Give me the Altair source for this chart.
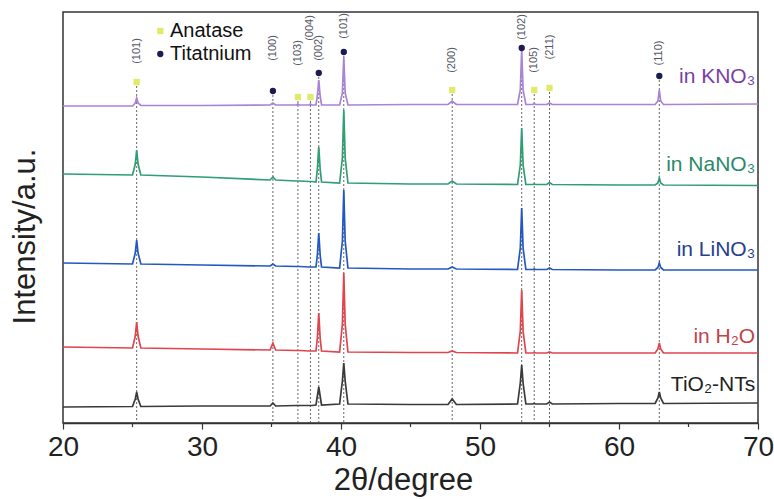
import altair as alt
import pandas as pd

# ---------------- data ----------------
two_theta = [20, 25.0, 25.2, 25.3, 25.4, 25.6, 30, 34.9, 35.1, 35.3, 36.8, 36.9, 37.0,
             37.7, 37.8, 37.9, 38.2, 38.3, 38.4, 38.5, 38.6, 39.9, 40.1, 40.2, 40.3, 40.5,
             45, 47.7, 48.0, 48.3, 52.7, 52.9, 53.0, 53.1, 53.3, 53.8, 53.9, 54.0, 54.8,
             55.0, 55.2, 60, 62.6, 62.8, 62.9, 63.0, 63.2, 70]

kno3 = [317, 317, 320, 325, 320, 317.5, 317.5, 318, 320, 318, 318, 319, 318,
        318, 319, 318, 318, 327, 343, 327, 318, 318, 330, 366, 330, 318,
        318.5, 318.5, 322, 318.5, 318.5, 333, 373, 333, 318.5, 318.5, 319.5, 318.5, 318.5,
        320, 318.5, 318.5, 318.5, 322, 333, 322, 318.5, 319]

nano3 = [249, 248, 259, 273, 259, 248, 246, 243, 246, 243, 242, 242, 242,
         241.5, 241.5, 241.5, 241, 254, 276, 254, 241, 240, 265, 313, 265, 240,
         239, 239, 242, 239, 238.5, 258, 295, 258, 238.5, 238.5, 239, 238.5, 238.5,
         240.5, 238.5, 238, 238, 240, 245, 240, 238, 237.5]

lino3 = [160, 159, 170, 183, 170, 159, 158, 157, 159, 157, 156.5, 156.5, 156.5,
         156, 156, 156, 156, 168, 190, 168, 156, 155, 182, 233, 182, 155,
         154, 154, 156, 154, 153.5, 175, 215, 175, 153.5, 153.5, 154, 153.5, 153.5,
         155, 153.5, 153, 153, 155.5, 160, 155.5, 153, 153]

h2o = [76, 75, 87, 101, 87, 75, 74, 73, 80, 73, 72.5, 72.5, 72.5,
       72, 72, 72, 72, 85, 110, 85, 72, 71, 99, 150, 99, 71,
       70.5, 70.5, 72, 70.5, 70, 92, 133, 92, 70, 70, 70.5, 70, 70,
       71, 70, 70, 70, 74, 80, 74, 70, 70]

tio2 = [16, 16.5, 24, 31, 24, 16.5, 17, 17, 20, 17, 17.5, 17.5, 17.5,
        17.5, 17.5, 17.5, 18, 27, 36, 27, 18, 19, 42, 60, 42, 19,
        18.5, 18.5, 24, 18.5, 19, 40, 58, 40, 19, 19, 19.5, 19, 19,
        21, 19, 19.5, 19.5, 25, 31, 25, 19.5, 20]

series_names = ["KNO3", "NaNO3", "LiNO3", "H2O", "TiO2"]
series_colors = ["#a883d8", "#2f9e74", "#2458c0", "#e0444c", "#3a3a3a"]

# peak reference positions, phases, marker heights, hkl labels
peak_pos = [25.3, 35.1, 36.9, 37.8, 38.4, 40.2, 48.0, 53.0, 53.9, 55.0, 62.9]
peak_phase = ["A", "T", "A", "A", "T", "T", "A", "T", "A", "A", "T"]
peak_marker_y = [341, 332, 326, 326, 350, 371, 333, 375, 333, 335, 347]
peak_hkl = ["(101)", "(100)", "(103)", "(004)", "(002)", "(101)", "(200)", "(102)",
            "(105)", "(211)", "(110)"]
peak_label_y = [372, 375, 370, 395, 375, 397, 363, 396, 363, 376, 370]

# trace labels
trace_labels = ["in KNO₃", "in NaNO₃", "in LiNO₃", "in H₂O", "TiO₂-NTs"]
trace_label_y = [346, 258, 173, 86, 38]
trace_label_colors = ["#7a3fa6", "#2a8a6a", "#25408f", "#c0444a", "#222222"]

legend_text = ["Anatase", "Titatnium"]
legend_y = [392, 369]
legend_colors = ["#e3ea6a", "#1c1c50"]

minor_ticks = [25, 35, 45, 55, 65]

# ---------------- build tables ----------------
rows = []
for name, ys in zip(series_names, [kno3, nano3, lino3, h2o, tio2]):
    for x, y in zip(two_theta, ys):
        rows.append({"x": x, "y": y, "s": name})
df = pd.DataFrame(rows)

peaks = pd.DataFrame({"x": peak_pos, "phase": peak_phase, "my": peak_marker_y,
                      "hkl": peak_hkl, "ly": peak_label_y, "y0": [0] * len(peak_pos)})
tl = pd.DataFrame({"t": trace_labels, "y": trace_label_y, "c": trace_label_colors,
                   "x": [69.8] * 5})
lg = pd.DataFrame({"t": legend_text, "y": legend_y, "c": legend_colors,
                   "x": [27.0, 27.0], "tx": [27.7, 27.7]})
mt = pd.DataFrame({"x": minor_ticks})

FONT = "Liberation Sans"
xscale = alt.Scale(domain=[20, 70], nice=False, zero=False)
yscale = alt.Scale(domain=[0, 411], nice=False, zero=False)

xax = alt.Axis(values=[20, 30, 40, 50, 60, 70], title="2θ/degree", grid=False,
               labelFontSize=28, titleFontSize=31, labelFont=FONT, titleFont=FONT,
               titleFontWeight="normal", labelColor="#222", titleColor="#222",
               tickSize=6, labelPadding=4, titlePadding=4, titleX=340, domainColor="#333",
               tickColor="#333", domainWidth=1.5, tickWidth=1.2, labelFlush=False)
yax = alt.Axis(title="Intensity/a.u.", labels=False, ticks=False, grid=False, domain=False,
               titleFontSize=31, titleFont=FONT, titleFontWeight="normal",
               titleColor="#222", titlePadding=22, titleY=224)

vlines = alt.Chart(peaks).mark_rule(color="#555", strokeWidth=0.9, strokeDash=[2, 2]).encode(
    x=alt.X("x:Q", scale=xscale, axis=xax),
    y=alt.Y("my:Q", scale=yscale, axis=yax),
    y2="y0:Q",
)

lines = alt.Chart(df).mark_line(strokeWidth=1.7).encode(
    x=alt.X("x:Q", scale=xscale),
    y=alt.Y("y:Q", scale=yscale),
    color=alt.Color("s:N", scale=alt.Scale(domain=series_names, range=series_colors),
                    legend=None),
    detail="s:N",
)

anat = alt.Chart(peaks).transform_filter(alt.datum.phase == "A").mark_point(
    shape="square", filled=True, size=40, color="#e3ea6a", opacity=1).encode(
    x=alt.X("x:Q", scale=xscale), y=alt.Y("my:Q", scale=yscale))

tita = alt.Chart(peaks).transform_filter(alt.datum.phase == "T").mark_point(
    shape="circle", filled=True, size=40, color="#1c1c50", opacity=1).encode(
    x=alt.X("x:Q", scale=xscale), y=alt.Y("my:Q", scale=yscale))

hkl = alt.Chart(peaks).mark_text(angle=270, fontSize=11, font=FONT, color="#556",
                                 align="center", baseline="middle").encode(
    x=alt.X("x:Q", scale=xscale), y=alt.Y("ly:Q", scale=yscale), text="hkl:N")

tlab = alt.Chart(tl).mark_text(fontSize=21, font=FONT, align="right",
                               baseline="middle").encode(
    x=alt.X("x:Q", scale=xscale), y=alt.Y("y:Q", scale=yscale), text="t:N",
    color=alt.Color("c:N", scale=None))

lg_pts = alt.Chart(lg).mark_point(filled=True, size=40, opacity=1).encode(
    x=alt.X("x:Q", scale=xscale), y=alt.Y("y:Q", scale=yscale),
    color=alt.Color("c:N", scale=None),
    shape=alt.Shape("t:N", scale=alt.Scale(domain=legend_text, range=["square", "circle"]),
                    legend=None))

lg_txt = alt.Chart(lg).mark_text(fontSize=20, font=FONT, align="left", baseline="middle",
                                 color="#111").encode(
    x=alt.X("tx:Q", scale=xscale), y=alt.Y("y:Q", scale=yscale), text="t:N")

minor = alt.Chart(mt).mark_rule(color="#333", strokeWidth=1.2).encode(
    x=alt.X("x:Q", scale=xscale), y=alt.value(411), y2=alt.value(415))

chart = alt.layer(vlines, lines, anat, tita, hkl, tlab, lg_pts, lg_txt, minor).properties(
    width=695, height=411,
    autosize=alt.AutoSizeParams(type="none"),
    padding={"left": 63, "top": 12, "right": 16, "bottom": 76},
    background="white",
).configure_view(stroke="#333", strokeWidth=1.5)

chart.save("out.html", embed_options={"renderer": "svg", "actions": False})
